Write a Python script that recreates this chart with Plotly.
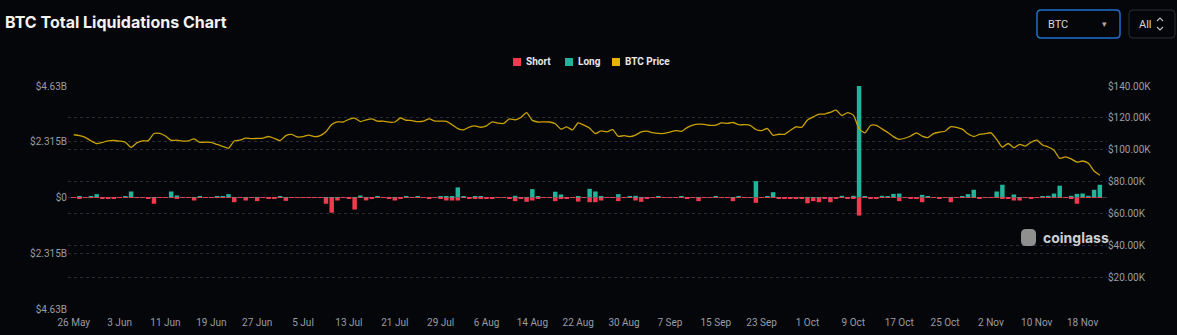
import plotly.graph_objects as go
import pandas as pd

# ---------------- data ----------------
start_date = "2025-05-26"
end_date = "2025-11-21"
dates = pd.date_range(start_date, end_date, freq="D")

# BTC price (thousand USD), daily
btc_price_k = [
    109.4, 108.9, 107.8, 105.6, 103.9, 104.6, 105.6, 105.8, 105.4, 104.7,
    101.5, 104.3, 105.6, 105.7, 110.2, 110.2, 108.6, 105.9, 106.0, 105.4,
    105.6, 106.8, 104.6, 104.8, 104.6, 103.3, 102.1, 100.9, 105.5, 106.0,
    107.3, 106.9, 107.1, 107.3, 108.3, 107.1, 105.7, 108.8, 109.6, 108.0,
    108.2, 109.2, 108.2, 108.9, 111.3, 115.9, 117.5, 117.4, 119.1, 119.8,
    117.7, 118.7, 119.3, 117.9, 117.9, 117.3, 117.4, 119.9, 118.5, 118.3,
    117.6, 117.9, 119.4, 118.0, 117.9, 117.8, 115.7, 113.3, 112.5, 114.2,
    115.0, 114.1, 115.0, 117.5, 116.7, 116.5, 119.3, 118.7, 120.2, 123.3,
    118.4, 117.4, 117.5, 117.4, 116.3, 112.9, 114.3, 112.4, 116.9, 115.4,
    113.5, 110.1, 111.8, 111.2, 112.6, 108.4, 108.8, 108.2, 109.2, 111.2,
    111.7, 110.7, 110.2, 110.2, 111.1, 112.0, 111.5, 113.9, 115.5, 116.1,
    115.9, 115.3, 115.4, 116.8, 116.5, 117.1, 115.7, 115.7, 115.3, 112.7,
    112.0, 113.3, 109.0, 109.7, 109.7, 112.1, 114.4, 114.1, 118.6, 120.6,
    122.3, 122.4, 123.5, 124.8, 121.4, 123.3, 121.7, 113.2, 110.6, 115.2,
    115.3, 113.1, 110.8, 108.2, 106.5, 107.2, 108.6, 110.6, 108.5, 107.6,
    110.1, 111.0, 111.6, 114.5, 114.1, 112.9, 110.0, 108.3, 109.6, 110.1,
    110.6, 106.5, 101.6, 103.9, 101.3, 103.4, 102.3, 104.7, 106.0, 103.0,
    101.7, 99.7, 94.6, 95.5, 94.2, 92.2, 92.9, 91.5, 86.6, 84.0,
]

# Long liquidations (million USD), daily
long_liq_m = [
    15, 30, 20, 60, 140, 15, 10, 15, 20, 30,
    250, 20, 10, 15, 20, 10, 20, 250, 85, 10,
    15, 20, 40, 10, 15, 55, 55, 140, 15, 10,
    15, 10, 10, 10, 15, 10, 40, 15, 10, 20,
    10, 10, 15, 10, 10, 15, 15, 10, 10, 20,
    85, 15, 20, 55, 10, 15, 20, 10, 30, 15,
    55, 10, 15, 20, 30, 55, 55, 420, 30, 10,
    30, 40, 15, 10, 10, 10, 10, 70, 15, 20,
    350, 30, 10, 15, 240, 125, 20, 15, 30, 10,
    360, 250, 55, 15, 10, 140, 15, 30, 70, 20,
    15, 10, 30, 10, 10, 10, 25, 10, 10, 15,
    10, 10, 30, 10, 10, 15, 25, 10, 10, 680,
    15, 30, 220, 15, 10, 10, 10, 10, 15, 20,
    15, 15, 15, 10, 70, 15, 70, 4630, 40, 15,
    10, 70, 40, 150, 165, 15, 10, 15, 110, 40,
    10, 10, 10, 15, 20, 40, 140, 320, 15, 10,
    15, 250, 530, 15, 125, 10, 10, 15, 20, 55,
    70, 165, 490, 20, 70, 150, 165, 70, 320, 530,
]

# Short liquidations (million USD), daily
short_liq_m = [
    20, 25, 15, 10, 10, 25, 25, 25, 15, 10,
    15, 20, 15, 30, 260, 20, 15, 15, 25, 15,
    20, 125, 15, 20, 10, 15, 10, 15, 195, 20,
    125, 15, 150, 20, 30, 25, 15, 140, 20, 10,
    20, 20, 15, 20, 260, 630, 125, 20, 30, 500,
    20, 120, 40, 15, 20, 25, 125, 30, 15, 20,
    15, 20, 30, 15, 25, 125, 125, 125, 20, 25,
    40, 30, 30, 30, 15, 20, 25, 150, 30, 180,
    125, 30, 15, 20, 150, 30, 30, 20, 170, 20,
    195, 195, 125, 20, 15, 150, 20, 15, 125, 180,
    30, 15, 15, 10, 15, 20, 15, 25, 20, 150,
    20, 15, 15, 20, 15, 150, 15, 15, 20, 220,
    20, 15, 20, 25, 30, 30, 30, 30, 240, 150,
    195, 30, 195, 30, 20, 25, 30, 750, 20, 40,
    25, 15, 20, 20, 150, 20, 30, 40, 195, 20,
    15, 25, 15, 195, 15, 15, 15, 20, 25, 15,
    15, 20, 30, 25, 125, 125, 15, 25, 15, 15,
    15, 20, 15, 15, 25, 260, 20, 15, 15, 15,
]

left_tick_vals_b = [-4.63, -2.315, 0, 2.315, 4.63]
left_tick_text = ["$4.63B", "$2.315B", "$0", "$2.315B", "$4.63B"]
right_tick_vals_k = [0, 20, 40, 60, 80, 100, 120, 140]
right_tick_text = ["", "$20.00K", "$40.00K", "$60.00K", "$80.00K",
                   "$100.00K", "$120.00K", "$140.00K"]

legend_names = ["Short", "Long", "BTC Price"]

# ---------------- style ----------------
W, H = 1177, 335
ML, MR, MT, MB = 68, 70, 86, 26
PW, PH = W - ML - MR, H - MT - MB
BG = "#05060a"
GRID = "#2a2d35"
TICK = "#9a9da4"
LONG_C = "#22b39b"
SHORT_C = "#f03a4f"
PRICE_C = "#c9a100"
PRICE_LEG = "#e6b400"


def fx(px):
    return (px - ML) / PW


def fy(py):
    return (H - MB - py) / PH


def rrect(x0, y0, x1, y1, r):
    rx = r / PW
    ry = r / PH
    a, b, c, d = fx(x0), fx(x1), fy(y0), fy(y1)  # c top, d bottom
    return (f"M{a+rx},{c} L{b-rx},{c} Q{b},{c} {b},{c-ry} L{b},{d+ry} "
            f"Q{b},{d} {b-rx},{d} L{a+rx},{d} Q{a},{d} {a},{d+ry} "
            f"L{a},{c-ry} Q{a},{c} {a+rx},{c} Z")


fig = go.Figure()

fig.add_trace(go.Bar(
    x=dates, y=[v * 1e6 for v in long_liq_m], name=legend_names[1],
    marker=dict(color=LONG_C, line=dict(width=0)), showlegend=False,
))
fig.add_trace(go.Bar(
    x=dates, y=[-v * 1e6 for v in short_liq_m], name=legend_names[0],
    marker=dict(color=SHORT_C, line=dict(width=0)), showlegend=False,
))
fig.add_trace(go.Scatter(
    x=dates, y=[v * 1000 for v in btc_price_k], name=legend_names[2],
    mode="lines", line=dict(color=PRICE_C, width=1.3, shape="spline", smoothing=0.6),
    yaxis="y2", showlegend=False,
))

shapes = []
annotations = []

# manual legend (squares + labels)
leg_items = [(legend_names[0], SHORT_C, 513), (legend_names[1], LONG_C, 565),
             (legend_names[2], PRICE_LEG, 612)]
for name, col, sx in leg_items:
    shapes.append(dict(type="rect", xref="paper", yref="paper",
                       x0=fx(sx), x1=fx(sx + 8), y0=fy(66), y1=fy(58),
                       fillcolor=col, line=dict(width=0)))
    annotations.append(dict(text=f"<b>{name}</b>", xref="paper", yref="paper",
                            x=fx(sx + 11), y=fy(62), xanchor="left", yanchor="middle",
                            showarrow=False, font=dict(family="Roboto", size=10, color="#e8e8e8")))

# selector boxes (top right)
shapes.append(dict(type="path", xref="paper", yref="paper",
                   path=rrect(1037, 10, 1120, 38, 4),
                   line=dict(color="#1f6fd0", width=1.5), fillcolor="rgba(0,0,0,0)"))
shapes.append(dict(type="path", xref="paper", yref="paper",
                   path=rrect(1129, 10, 1175, 38, 4),
                   line=dict(color="#2c2f37", width=1), fillcolor="rgba(0,0,0,0)"))
annotations.append(dict(text="BTC", xref="paper", yref="paper", x=fx(1046), y=fy(24),
                        xanchor="left", yanchor="middle", showarrow=False,
                        font=dict(family="Roboto", size=11, color="#d8d8d8")))
annotations.append(dict(text="▾", xref="paper", yref="paper", x=fx(1104), y=fy(24),
                        xanchor="center", yanchor="middle", showarrow=False,
                        font=dict(family="DejaVu Sans", size=9, color="#aaaaaa")))
annotations.append(dict(text="All", xref="paper", yref="paper", x=fx(1137), y=fy(24),
                        xanchor="left", yanchor="middle", showarrow=False,
                        font=dict(family="Roboto", size=11, color="#d8d8d8")))
for p in (f"M{fx(1157)},{fy(21)} L{fx(1160)},{fy(18)} L{fx(1163)},{fy(21)}",
          f"M{fx(1157)},{fy(27)} L{fx(1160)},{fy(30)} L{fx(1163)},{fy(27)}"):
    shapes.append(dict(type="path", xref="paper", yref="paper", path=p,
                       line=dict(color="#bbbbbb", width=1.2)))

# watermark
shapes.append(dict(type="path", xref="paper", yref="paper",
                   path=rrect(1021, 229, 1036, 246, 5),
                   fillcolor="#a8a8a8", line=dict(width=0), opacity=0.85))
annotations.append(dict(text="<b>coinglass</b>", xref="paper", yref="paper",
                        x=fx(1041), y=fy(237), xanchor="left", yanchor="middle",
                        showarrow=False, font=dict(family="Inter", size=14, color="#cfcfcf")))

fig.update_layout(
    width=W, height=H,
    margin=dict(l=ML, r=MR, t=MT, b=MB, pad=0, autoexpand=False),
    paper_bgcolor=BG, plot_bgcolor=BG,
    barmode="relative", bargap=0.22,
    showlegend=False,
    title=dict(text="<b>BTC Total Liquidations Chart</b>", x=5 / W, xanchor="left",
               xref="container", y=1 - 22 / H, yanchor="middle", yref="container",
               font=dict(family="Inter", size=16, color="#f2f2f2")),
    xaxis=dict(
        type="date", automargin=False,
        range=["2025-05-25 00:00", "2025-11-22 06:00"],
        tick0=start_date, dtick=8 * 86400000, tickformat="%-d %b",
        showgrid=False, zeroline=False, showline=False, ticks="",
        ticklabelstandoff=6,
        tickfont=dict(family="Roboto", size=10, color=TICK),
    ),
    yaxis=dict(
        automargin=False,
        range=[-4.63e9, 4.63e9],
        tickvals=[v * 1e9 for v in left_tick_vals_b], ticktext=left_tick_text,
        showgrid=True, gridcolor=GRID, griddash="3px,3px", gridwidth=1,
        zeroline=True, zerolinecolor="#33363e", zerolinewidth=1,
        showline=False, ticks="", ticklen=0,
        tickfont=dict(family="Roboto", size=10, color=TICK),
    ),
    yaxis2=dict(
        automargin=False,
        overlaying="y", side="right", range=[0, 140000],
        tickvals=[v * 1000 for v in right_tick_vals_k], ticktext=right_tick_text,
        showgrid=True, gridcolor=GRID, griddash="3px,3px", gridwidth=1,
        zeroline=False, showline=False, ticks="",
        tickfont=dict(family="Roboto", size=10, color=TICK),
    ),
    shapes=shapes,
    annotations=annotations,
)

fig.write_html("out.html")
